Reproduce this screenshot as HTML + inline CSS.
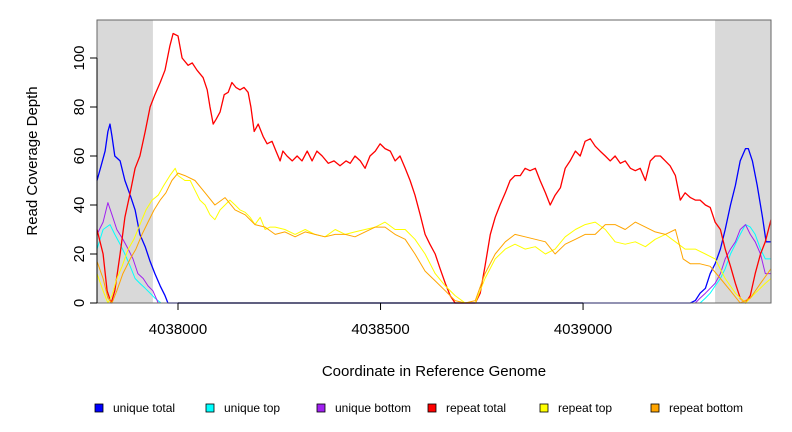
<!DOCTYPE html>
<html><head><meta charset="utf-8"><style>
body{margin:0;background:#fff}
svg{display:block;font-family:"Liberation Sans",sans-serif}
</style></head><body>
<svg id="chart" width="792" height="432" viewBox="0 0 792 432">
<rect x="0" y="0" width="792" height="432" fill="#fff"/>
<g id="shade"></g>
<g id="series"></g>
<rect x="97" y="20" width="674" height="283" fill="none" stroke="#666" stroke-width="1"/>
<g id="axes"></g>
<text x="434" y="376" text-anchor="middle" font-size="15">Coordinate in Reference Genome</text>
<text transform="translate(37,161) rotate(-90)" text-anchor="middle" font-size="15">Read Coverage Depth</text>
<g id="legend"></g>
</svg>
<script>
const START = 4037800;
const xTicks = [4038000, 4038500, 4039000];
const yTicks = [0, 20, 40, 60, 80, 100];
const shadeRegions = [[0, 138], [1526, 1664]];
const seriesNames = ["unique total","unique top","unique bottom","repeat total","repeat top","repeat bottom"];
const seriesColors = ["#0000ff","#00ffff","#a020f0","#ff0000","#ffff00","#ffa500"];

const redPos = [0,15,25,35,44,57,69,82,94,106,119,131,143,156,168,180,188,200,210,225,235,247,262,272,279,287,294,304,314,324,333,343,353,363,373,380,388,398,410,420,432,442,452,459,469,482,494,506,519,531,543,556,571,585,600,615,625,637,650,662,674,687,699,711,724,736,748,761,773,785,798,810,822,835,847,860,872,884,902,934,946,958,971,983,995,1008,1020,1032,1045,1057,1069,1082,1094,1107,1119,1131,1144,1156,1168,1181,1193,1205,1218,1230,1242,1255,1267,1279,1292,1304,1317,1329,1341,1354,1366,1378,1391,1403,1415,1428,1440,1452,1465,1477,1489,1502,1514,1526,1539,1551,1564,1576,1588,1601,1613,1625,1638,1650,1664];
const redVal = [30,20,5,0,5,20,35,45,55,60,70,80,85,90,95,105,110,109,100,97,98,95,92,87,80,73,75,78,85,86,90,88,87,88,86,80,70,73,68,65,66,62,58,62,60,58,60,58,62,58,62,60,57,58,56,58,57,60,58,55,60,62,65,63,62,58,60,55,50,44,36,28,24,20,14,8,3,0,0,0,4,15,28,35,40,45,50,52,52,55,54,55,50,45,40,44,47,55,58,62,60,66,67,64,62,60,58,60,57,58,55,54,55,50,58,60,60,58,56,52,42,45,43,42,42,40,39,33,30,22,15,8,2,0,3,12,20,25,34];

const yelPos = [0,15,27,37,49,62,77,91,106,121,136,151,165,180,193,200,217,230,242,254,267,279,291,304,316,328,341,353,366,378,390,403,415,427,440,464,489,514,538,563,588,613,637,662,687,711,736,761,785,810,835,860,884,909,934,958,983,1008,1032,1057,1082,1107,1131,1156,1181,1205,1230,1255,1279,1304,1329,1354,1378,1403,1428,1452,1477,1502,1526,1551,1576,1601,1625,1650,1664];
const yelVal = [12,5,0,3,10,15,22,26,32,38,42,44,48,52,55,52,50,50,46,42,40,36,34,38,40,42,40,38,37,35,32,35,30,31,31,30,28,30,28,27,30,28,29,30,31,33,30,30,26,20,12,7,3,0,0,10,18,22,24,22,23,20,22,27,30,32,33,30,25,24,25,23,26,28,25,22,22,20,18,10,4,0,4,8,10];

const orPos = [0,15,27,37,49,64,82,96,111,126,141,156,170,185,200,217,242,267,291,316,341,366,390,415,440,464,489,514,538,563,588,613,637,662,687,711,736,761,785,810,835,860,884,909,934,958,983,1008,1032,1057,1082,1107,1131,1156,1181,1205,1230,1255,1279,1304,1329,1354,1378,1403,1428,1447,1465,1489,1514,1539,1564,1588,1613,1638,1664];
const orVal = [17,10,2,0,5,12,18,22,28,33,38,42,45,50,53,52,50,45,40,43,38,36,32,31,28,29,27,29,28,27,28,28,27,29,31,31,28,26,20,13,9,5,1,0,1,12,20,25,28,27,26,25,20,24,26,28,28,32,32,30,33,31,29,28,30,18,16,16,15,10,5,0,2,8,14];

const bluePos = [0,10,20,27,32,37,44,57,69,82,94,106,119,131,143,156,168,175,1465,1477,1489,1502,1514,1526,1539,1551,1564,1576,1588,1601,1608,1618,1630,1643,1652,1664];
const blueVal = [50,56,62,70,73,68,60,58,50,44,38,28,23,17,12,7,3,0,0,1,4,6,12,16,22,30,40,48,58,63,63,58,48,35,25,25];

const cyanPos = [0,15,32,44,57,69,82,94,106,119,131,143,158,1489,1502,1514,1526,1539,1551,1564,1576,1588,1601,1613,1625,1638,1650,1664];
const cyanVal = [22,30,32,28,24,20,15,10,8,6,4,2,0,0,2,4,7,10,14,20,24,28,32,31,28,22,18,18];

const purPos = [0,15,27,37,49,64,77,89,101,114,126,138,151,1477,1489,1502,1514,1526,1539,1551,1564,1576,1588,1601,1613,1625,1638,1650,1664];
const purVal = [28,33,41,36,30,26,22,18,12,10,7,5,0,0,2,4,6,8,12,18,22,25,30,32,28,25,20,12,12];

const NS = "http://www.w3.org/2000/svg";
const PX0 = 97, PX1 = 771, PY0 = 303, SPAN = 1664;
function xs(off){ return PX0 + off * (PX1 - PX0) / SPAN; }
function xg(c){ return xs(c - START); }
function ys(v){ return PY0 - v * 2.45; }
function mk(tag, attrs, parent){
  const e = document.createElementNS(NS, tag);
  for (const k in attrs) e.setAttribute(k, attrs[k]);
  parent.appendChild(e); return e;
}
const shade = document.getElementById('shade');
shadeRegions.forEach(r => {
  const el = mk('rect', {x: xs(r[0]), y: 20, width: xs(r[1]) - xs(r[0]), height: 283, fill: '#d9d9d9'}, shade);
  
  
});
const seriesG = document.getElementById('series');
function drawLine(pos, val, color, w, name){
  let d = '';
  for (let i = 0; i < pos.length; i++){
    d += (i ? 'L' : 'M') + xs(pos[i]).toFixed(1) + ',' + ys(val[i]).toFixed(1);
  }
  const p = mk('path', {d: d, fill: 'none', stroke: color, 'stroke-width': w, 'stroke-linejoin': 'round'}, seriesG);
  
  
}
drawLine(bluePos, blueVal, seriesColors[0], 1.3, 'line-unique-total');
drawLine(cyanPos, cyanVal, seriesColors[1], 1, 'line-unique-top');
drawLine(purPos, purVal, seriesColors[2], 1, 'line-unique-bottom');
drawLine(redPos, redVal, seriesColors[3], 1.3, 'line-repeat-total');
drawLine(yelPos, yelVal, seriesColors[4], 1, 'line-repeat-top');
drawLine(orPos, orVal, seriesColors[5], 1, 'line-repeat-bottom');

const axes = document.getElementById('axes');
const yl = mk('line', {x1: PX0, x2: PX0, y1: ys(0), y2: ys(100), stroke: '#000'}, axes);


yTicks.forEach(v => {
  const t = mk('line', {x1: PX0 - 7, x2: PX0, y1: ys(v), y2: ys(v), stroke: '#000'}, axes);
  
  
  const tx = mk('text', {transform: 'translate(' + (PX0 - 13) + ',' + ys(v) + ') rotate(-90)', 'text-anchor': 'middle', 'font-size': 15}, axes);
  tx.textContent = v;
  
  
});
const xl = mk('line', {x1: xg(xTicks[0]), x2: xg(xTicks[xTicks.length - 1]), y1: 303, y2: 303, stroke: '#000'}, axes);


xTicks.forEach(c => {
  const t = mk('line', {x1: xg(c), x2: xg(c), y1: 303, y2: 310, stroke: '#000'}, axes);
  
  
  const tx = mk('text', {x: xg(c), y: 334, 'text-anchor': 'middle', 'font-size': 15}, axes);
  tx.textContent = c;
  
  
});
const legend = document.getElementById('legend');
const legX = [95, 206, 317, 428, 540, 651];
seriesNames.forEach((n, i) => {
  const r = mk('rect', {x: legX[i], y: 404, width: 8, height: 8, fill: seriesColors[i], stroke: '#000', 'stroke-width': 0.8}, legend);
  
  
  const t = mk('text', {x: legX[i] + 18, y: 412, 'font-size': 12}, legend);
  t.textContent = n;
  
  
});
</script>
</body></html>
